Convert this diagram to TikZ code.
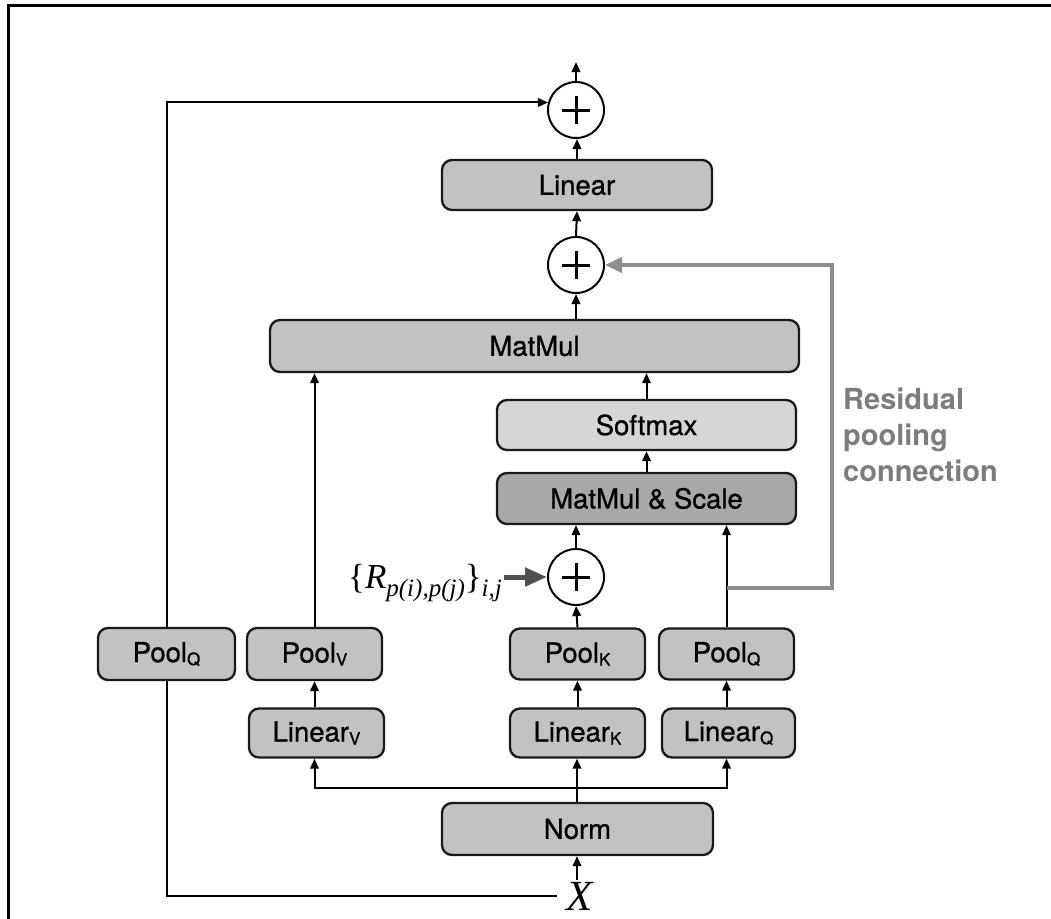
\documentclass[tikz,border=0pt]{standalone}
\usepackage{fontspec}
\setmainfont{TeX Gyre Heros}
\newfontfamily\medfont{TeX Gyre Heros}[FakeBold=0.9]
\newfontfamily\tms{Liberation Serif}
\usetikzlibrary{arrows.meta,calc}
\pgfdeclarelayer{bg}
\pgfsetlayers{bg,main}

\definecolor{boxfill}{HTML}{C2C2C2}
\definecolor{softfill}{HTML}{D6D6D6}
\definecolor{mmsfill}{HTML}{A8A8A8}
\definecolor{resgray}{HTML}{8E8E8E}
\definecolor{restext}{HTML}{7C7C7C}
\definecolor{rarrow}{HTML}{505050}

\newcommand{\sub}[1]{\raisebox{-3pt}{\fontsize{17}{17}\selectfont #1}}

\tikzset{
  opbox/.style={draw=black!90, line width=2.3pt, rounded corners=10pt, fill=boxfill,
    inner sep=0pt, font=\medfont\fontsize{27.5}{27.5}\selectfont},
  addc/.style={circle, draw=black, line width=2pt, fill=white, minimum size=56pt, inner sep=0pt},
  plusbar/.style={line width=3pt, black},
  conn/.style={line width=2pt, black},
  arr/.style={conn, -{Triangle[length=10pt,width=8.5pt]}},
  resarr/.style={line width=4pt, resgray, -{Triangle[length=17pt,width=15pt]}},
  rlarr/.style={line width=5pt, rarrow, -{Triangle[length=22pt,width=18pt]}},
}

\begin{document}
\begin{tikzpicture}[x=1pt, y=-1pt]
\useasboundingbox (0,0) rectangle (1051,918);
\clip (0,0) rectangle (1051,918);

% outer frame
\draw[line width=3pt] (8.5,940) -- (8.5,5.5) -- (1070,5.5);

% adders
\node[addc] (add1) at (576,110) {};
\node[addc] (add2) at (576,265) {};
\node[addc] (add3) at (576,577) {};
\foreach \a in {add1,add2,add3}{
  \draw[plusbar] (\a.center) +(-14,0) -- +(14,0);
  \draw[plusbar] (\a.center) +(0,-14) -- +(0,14);
}

% operation boxes
\node[opbox, minimum width=270pt, minimum height=50pt] (lin) at (577,185) {Linear};
\node[opbox, minimum width=529pt, minimum height=52pt] (mm) at (534.5,346) {MatMul};
\node[opbox, fill=softfill, minimum width=299pt, minimum height=50pt] (soft) at (646.5,425) {Softmax};
\node[opbox, fill=mmsfill, minimum width=299pt, minimum height=51pt] (mms) at (646.5,498.5) {MatMul \& Scale};

\node[opbox, minimum width=137pt, minimum height=52pt] (poolQL) at (166.5,654) {Pool\sub{Q}};
\node[opbox, minimum width=135pt, minimum height=52pt] (poolV) at (314.5,654) {Pool\sub{V}};
\node[opbox, minimum width=135pt, minimum height=51pt] (poolK) at (577.5,654) {Pool\sub{K}};
\node[opbox, minimum width=135pt, minimum height=51pt] (poolQ) at (726.5,654) {Pool\sub{Q}};

\node[opbox, minimum width=135pt, minimum height=49pt] (linV) at (316.5,733) {Linear\sub{V}};
\node[opbox, minimum width=135pt, minimum height=49pt] (linK) at (577.5,733) {Linear\sub{K}};
\node[opbox, minimum width=133pt, minimum height=49pt] (linQ) at (728.5,733) {Linear\sub{Q}};

\node[opbox, minimum width=271pt, minimum height=52pt] (norm) at (577.5,829) {Norm};

% input
\node[inner xsep=10pt, inner ysep=2pt, font=\tms\fontsize{43}{43}\selectfont\itshape] (X) at (580,896) {X};

% relative position bias label
\node[inner sep=2pt, anchor=base east] (rel) at (504,588)
  {\tms\fontsize{35}{35}\selectfont\{\textit{R}\raisebox{-8pt}{\fontsize{25}{25}\selectfont\textit{p(i),p(j)}}\}\raisebox{-8pt}{\fontsize{25}{25}\selectfont\textit{i,j}}};

% residual pooling label
\node[anchor=north west, align=left, text=restext, inner sep=0pt,
      font=\bfseries\fontsize{29}{36}\selectfont] (reslbl) at (843,388)
  {Residual\\pooling\\connection};

% helper points
\coordinate (out) at (576,62);
\coordinate (jn) at (577,788);
\coordinate (br) at (poolQ.north |- 0,588);
\coordinate (brR) at (832,588);
\coordinate (brT) at (832,265);

\begin{pgfonlayer}{bg}
  % skip connection from the input
  \draw[arr] (X.west) -| (poolQL.center) |- (add1.165);
  % main stack
  \draw[arr] (add1.north) -- (out);
  \draw[arr] (lin.north) -- (lin.north |- add1.south);
  \draw[arr] (add2.north) -- (lin.south);
  \draw[arr] (mm.north -| add2) -- (add2.south);
  \draw[arr] (soft.north) -- (soft.north |- mm.south);
  \draw[arr] (mms.north) -- (soft.south);
  \draw[arr] (add3.north) -- (add3.north |- mms.south);
  \draw[arr] (poolK.north) -- (add3.south);
  \draw[arr] (poolQ.north) -- (poolQ.north |- mms.south);
  \draw[arr] (poolV.north) -- (poolV.north |- mm.south);
  \draw[arr] (linV.north -| poolV) -- (poolV.south);
  \draw[arr] (linK.north -| poolK) -- (poolK.south);
  \draw[arr] (linQ.north -| poolQ.south) -- (poolQ.south);
  % from the norm to the three projections
  \draw[conn] (norm.north -| jn) -- (jn);
  \draw[arr] (jn) -| (linV.south -| poolV);
  \draw[arr] (jn) -- (linK.south -| jn);
  \draw[arr] (jn) -| (linQ.south -| poolQ);
  \draw[arr] (X.north -| jn) -- (norm.south -| jn);
\end{pgfonlayer}

% residual pooling connection
\draw[resarr] (br) -- (brR) -- (brT) -- (add2.east);
% relative position term
\draw[rlarr] (rel.east |- add3) -- (add3.west);
\end{tikzpicture}
\end{document}
